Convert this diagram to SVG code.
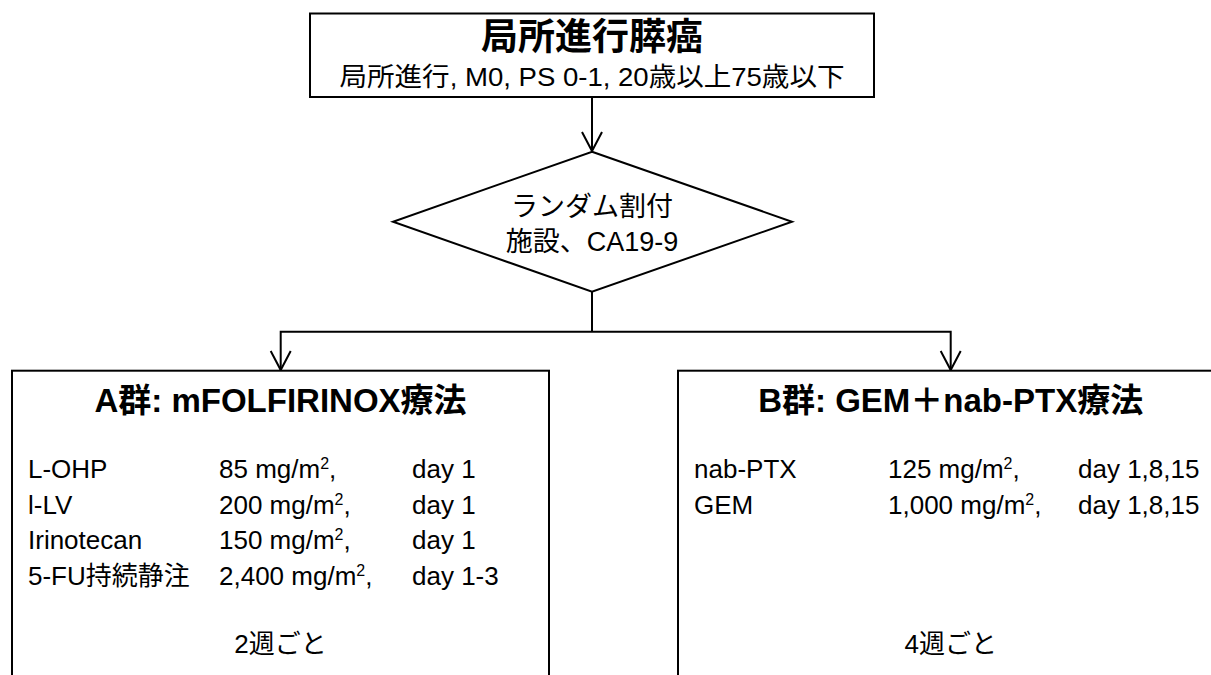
<svg xmlns="http://www.w3.org/2000/svg" width="1211" height="675" viewBox="0 0 1211 675">
<defs>
<style>
text{font-family:"Liberation Sans","Noto Sans CJK JP",sans-serif;fill:#000}
.box{fill:#fff;stroke:#000;stroke-width:2}
.conn{fill:none;stroke:#000;stroke-width:2}
.t{font-size:26px}
.d{font-size:27px;text-anchor:middle}
.h{font-size:33px;font-weight:bold;text-anchor:middle}
.c{text-anchor:middle}
</style>
<marker id="arr" markerUnits="userSpaceOnUse" markerWidth="24" markerHeight="24" viewBox="0 0 24 24" refX="21" refY="12" orient="auto" overflow="visible">
<path d="M2,2 L21,12 L2,22" fill="none" stroke="#000" stroke-width="2"/>
</marker>
</defs>
<rect width="1211" height="675" fill="#fff"/>
<g id="connectors">
<line class="conn" x1="592" y1="97" x2="592" y2="151" marker-end="url(#arr)"/>
<line class="conn" x1="592" y1="292" x2="592" y2="331.7"/>
<polyline class="conn" points="592,331.7 280.7,331.7 280.7,370" marker-end="url(#arr)"/>
<polyline class="conn" points="592,331.7 950.7,331.7 950.7,370" marker-end="url(#arr)"/>
</g>
<g id="node-top">
<rect class="box" x="310" y="13.5" width="564" height="83.5"/>
<text x="592" y="50" font-size="37" font-weight="bold" text-anchor="middle">局所進行膵癌</text>
<text x="592" y="86" font-size="26" text-anchor="middle" textLength="505" lengthAdjust="spacingAndGlyphs">局所進行, M0, PS 0-1, 20歳以上75歳以下</text>
</g>
<g id="node-random">
<polygon class="box" points="592,151.7 792,221.7 592,291.7 393,221.7"/>
<text class="d" x="592" y="216">ランダム割付</text>
<text class="d" x="592" y="251">施設、CA19-9</text>
</g>
<g id="node-a">
<rect class="box" x="12" y="370.7" width="537" height="330"/>
<text class="h" x="280.5" y="412">A群: mFOLFIRINOX療法</text>
<text class="t" x="28" y="478">L-OHP</text>
<text class="t" x="28" y="514">l-LV</text>
<text class="t" x="28" y="549">Irinotecan</text>
<text class="t" x="28" y="585">5-FU持続静注</text>
<text class="t" x="219" y="478">85 mg/m<tspan font-size="16" dy="-9">2</tspan><tspan dy="9">,</tspan></text>
<text class="t" x="219" y="514">200 mg/m<tspan font-size="16" dy="-9">2</tspan><tspan dy="9">,</tspan></text>
<text class="t" x="219" y="549">150 mg/m<tspan font-size="16" dy="-9">2</tspan><tspan dy="9">,</tspan></text>
<text class="t" x="219" y="585">2,400 mg/m<tspan font-size="16" dy="-9">2</tspan><tspan dy="9">,</tspan></text>
<text class="t" x="412" y="478">day 1</text>
<text class="t" x="412" y="514">day 1</text>
<text class="t" x="412" y="549">day 1</text>
<text class="t" x="412" y="585">day 1-3</text>
<text class="t c" x="280.5" y="653">2週ごと</text>
</g>
<g id="node-b">
<rect class="box" x="678" y="370.7" width="560" height="330"/>
<text class="h" x="950.7" y="412">B群: GEM＋nab-PTX療法</text>
<text class="t" x="694" y="478">nab-PTX</text>
<text class="t" x="694" y="514">GEM</text>
<text class="t" x="888" y="478">125 mg/m<tspan font-size="16" dy="-9">2</tspan><tspan dy="9">,</tspan></text>
<text class="t" x="888" y="514">1,000 mg/m<tspan font-size="16" dy="-9">2</tspan><tspan dy="9">,</tspan></text>
<text class="t" x="1078" y="478">day 1,8,15</text>
<text class="t" x="1078" y="514">day 1,8,15</text>
<text class="t c" x="950.7" y="653">4週ごと</text>
</g>
</svg>
